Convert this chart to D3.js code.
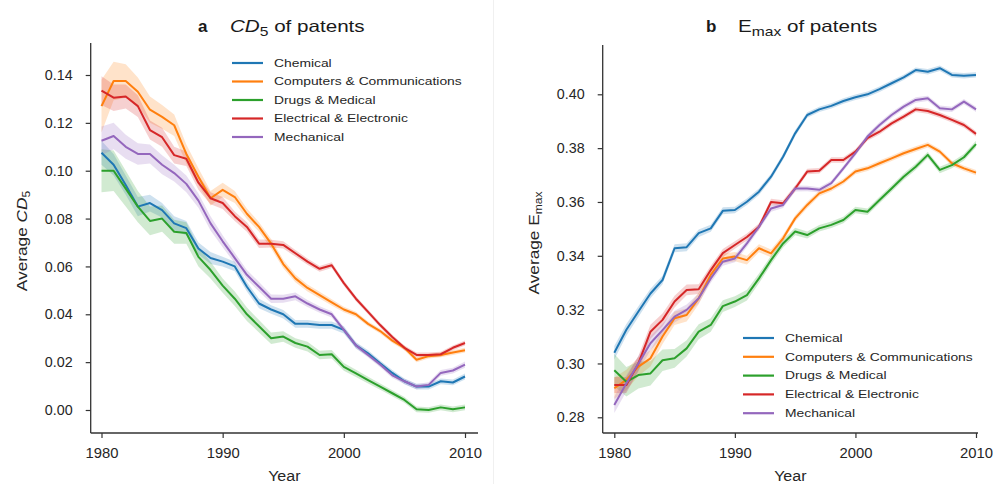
<!DOCTYPE html>
<html><head><meta charset="utf-8">
<script src="https://cdn.jsdelivr.net/npm/d3@7/dist/d3.min.js"></script>
<style>
body{margin:0;background:#fff;}
svg{font-family:"Liberation Sans",Arial,sans-serif;}
</style></head>
<body><svg id="c" width="993" height="484"></svg>
<script>
const years = d3.range(1980, 2011);
const categories = ["Chemical","Computers & Communications","Drugs & Medical","Electrical & Electronic","Mechanical"];
const colors = ["#1f77b4","#ff7f0e","#2ca02c","#d62728","#9467bd"];

// Panel a: CD5
const cdChemical = [0.1075,0.1025,0.094,0.085,0.0865,0.0835,0.078,0.076,0.0675,0.0635,0.062,0.060,0.0515,0.0445,0.042,0.040,0.036,0.036,0.0355,0.0355,0.0335,0.027,0.0237,0.0195,0.0155,0.012,0.0098,0.0098,0.012,0.0115,0.014];
const cdComputers = [0.127,0.1375,0.1375,0.133,0.1255,0.1225,0.119,0.107,0.0975,0.0885,0.092,0.089,0.082,0.0765,0.0695,0.061,0.055,0.051,0.048,0.045,0.042,0.040,0.036,0.033,0.029,0.026,0.021,0.0225,0.023,0.024,0.025];
const cdDrugs = [0.100,0.100,0.0925,0.085,0.079,0.080,0.0745,0.074,0.064,0.0585,0.052,0.0465,0.040,0.035,0.030,0.0307,0.028,0.0265,0.023,0.0233,0.018,0.0153,0.0125,0.0098,0.007,0.0042,0.0003,0.0,0.0011,0.0003,0.0011];
const cdElectrical = [0.1335,0.1305,0.131,0.127,0.117,0.114,0.1065,0.105,0.095,0.0885,0.0865,0.081,0.0765,0.0695,0.0695,0.069,0.0655,0.062,0.059,0.0605,0.053,0.0465,0.041,0.0355,0.0305,0.026,0.023,0.023,0.0233,0.026,0.028];
const cdMechanical = [0.1125,0.1145,0.110,0.107,0.107,0.1025,0.099,0.0945,0.0875,0.078,0.0705,0.0635,0.0565,0.0515,0.0465,0.0465,0.0475,0.0445,0.042,0.040,0.0335,0.027,0.023,0.019,0.0145,0.012,0.0098,0.0105,0.0155,0.0165,0.019];
// half-widths of the confidence bands, panel a
const cdChemicalCI = [0.005,0.0045,0.004,0.004,0.0035,0.003,0.003,0.003,0.0025,0.0025,0.002,0.002,0.002,0.002,0.0018,0.0018,0.0016,0.0016,0.0015,0.0015,0.0015,0.0013,0.0013,0.0012,0.0012,0.0012,0.0012,0.0012,0.0012,0.0012,0.0013];
const cdComputersCI = [0.011,0.008,0.007,0.006,0.0055,0.005,0.0045,0.004,0.0035,0.003,0.003,0.0025,0.0022,0.002,0.002,0.0018,0.0016,0.0015,0.0014,0.0013,0.0012,0.0011,0.001,0.001,0.001,0.001,0.001,0.001,0.001,0.001,0.001];
const cdDrugsCI = [0.009,0.0085,0.0075,0.0065,0.006,0.0055,0.005,0.0045,0.004,0.0035,0.003,0.003,0.0028,0.0026,0.0024,0.0022,0.002,0.002,0.0018,0.0018,0.0016,0.0015,0.0014,0.0013,0.0013,0.0012,0.0012,0.0012,0.0012,0.0012,0.0012];
const cdElectricalCI = [0.006,0.0055,0.005,0.0045,0.004,0.004,0.0035,0.003,0.003,0.0025,0.0025,0.002,0.002,0.0018,0.0016,0.0015,0.0014,0.0013,0.0012,0.0012,0.0011,0.001,0.001,0.001,0.001,0.001,0.001,0.001,0.001,0.001,0.001];
const cdMechanicalCI = [0.006,0.0055,0.005,0.0045,0.004,0.004,0.0035,0.0035,0.003,0.003,0.0025,0.0022,0.002,0.002,0.0018,0.0017,0.0016,0.0015,0.0014,0.0013,0.0012,0.0012,0.0011,0.0011,0.0011,0.0011,0.0011,0.0011,0.0012,0.0012,0.0013];

// Panel b: Emax
const emChemical = [0.304,0.3125,0.3193,0.326,0.331,0.3428,0.3432,0.3484,0.3502,0.3567,0.357,0.3601,0.3638,0.3694,0.3768,0.3855,0.3923,0.3944,0.3957,0.3975,0.3989,0.400,0.4019,0.4041,0.4063,0.409,0.4084,0.4097,0.4072,0.4069,0.4072];
const emComputers = [0.2908,0.2939,0.2988,0.3019,0.310,0.3168,0.318,0.3242,0.3329,0.339,0.3397,0.3384,0.3428,0.3409,0.3465,0.3539,0.3589,0.3632,0.365,0.3676,0.3713,0.3725,0.3744,0.3762,0.3781,0.3797,0.3812,0.3787,0.3744,0.3725,0.3709];
const emDrugs = [0.2975,0.2932,0.2957,0.2963,0.3012,0.3019,0.3056,0.3118,0.3143,0.3213,0.323,0.3254,0.3316,0.3384,0.3446,0.349,0.3477,0.3502,0.3515,0.3533,0.357,0.3564,0.3607,0.365,0.3694,0.3731,0.3775,0.3719,0.3737,0.3766,0.3815];
const emElectrical = [0.292,0.292,0.300,0.3118,0.3162,0.323,0.3273,0.3276,0.3347,0.341,0.344,0.347,0.3508,0.360,0.3595,0.365,0.3713,0.3716,0.3756,0.3756,0.3787,0.3837,0.3861,0.3892,0.3917,0.3944,0.3938,0.3923,0.3905,0.3886,0.3853];
const emMechanical = [0.2846,0.2926,0.300,0.3075,0.3124,0.3174,0.3199,0.3242,0.3316,0.3378,0.339,0.3446,0.3508,0.3576,0.3589,0.365,0.365,0.3645,0.367,0.3725,0.3781,0.3843,0.3886,0.3923,0.3954,0.3979,0.3985,0.3948,0.3944,0.3973,0.3944];
// half-widths of the confidence bands, panel b
const emChemicalCI = [0.0025,0.0022,0.002,0.0018,0.0016,0.0015,0.0015,0.0014,0.0013,0.0013,0.0012,0.0012,0.0012,0.0011,0.0011,0.0011,0.001,0.001,0.001,0.001,0.001,0.001,0.001,0.001,0.001,0.001,0.001,0.001,0.001,0.001,0.001];
const emComputersCI = [0.004,0.0038,0.0035,0.003,0.0028,0.0025,0.0024,0.0022,0.002,0.0018,0.0017,0.0016,0.0015,0.0014,0.0013,0.0012,0.0012,0.0011,0.001,0.001,0.001,0.001,0.001,0.001,0.001,0.001,0.001,0.001,0.001,0.001,0.001];
const emDrugsCI = [0.006,0.0055,0.005,0.0045,0.004,0.0035,0.003,0.0028,0.0025,0.0022,0.002,0.002,0.0018,0.0016,0.0015,0.0014,0.0013,0.0012,0.0012,0.0012,0.0012,0.0012,0.0012,0.0012,0.0012,0.0012,0.0012,0.0012,0.0012,0.0012,0.0012];
const emElectricalCI = [0.003,0.003,0.0028,0.0026,0.0024,0.0022,0.002,0.0018,0.0016,0.0015,0.0014,0.0013,0.0012,0.0012,0.0011,0.0011,0.001,0.001,0.001,0.001,0.001,0.001,0.001,0.001,0.001,0.001,0.001,0.001,0.001,0.001,0.001];
const emMechanicalCI = [0.003,0.003,0.0028,0.0026,0.0024,0.0022,0.002,0.0018,0.0016,0.0015,0.0014,0.0013,0.0012,0.0012,0.0011,0.0011,0.001,0.001,0.001,0.001,0.001,0.001,0.001,0.001,0.001,0.001,0.001,0.001,0.001,0.001,0.001];

const xTicks = [1980, 1990, 2000, 2010];
const cdTicks = [0.00, 0.02, 0.04, 0.06, 0.08, 0.10, 0.12, 0.14];
const emTicks = [0.28, 0.30, 0.32, 0.34, 0.36, 0.38, 0.40];

const svg = d3.select("#c");
svg.append("rect").attr("width",993).attr("height",484).attr("fill","#fff");
// faint divider between panels
svg.append("line").attr("x1",493.5).attr("x2",493.5).attr("y1",0).attr("y2",484)
  .attr("stroke","#f0f0f0").attr("stroke-width",1);

// horizontally widen text about its anchor x
function stretch(sel, sx){
  sel.each(function(){
    const ax = +(this.getAttribute("x") || 0);
    this.setAttribute("transform", `translate(${ax},0) scale(${sx},1) translate(${-ax},0)`);
  });
}

function panel(cfg){
  const g = svg.append("g");
  const x = d3.scaleLinear().domain([1980,2010]).range(cfg.xr);
  const y = d3.scaleLinear().domain(cfg.yd).range(cfg.yr);
  const axisColor = "#333";
  cfg.series.forEach((s,i)=>{
    const area = d3.area().x((d,j)=>x(years[j]))
      .y0((d,j)=>y(d - s.ci[j])).y1((d,j)=>y(d + s.ci[j]));
    g.append("path").attr("d", area(s.v)).attr("fill", colors[i]).attr("fill-opacity",0.22).attr("stroke","none");
  });
  cfg.series.forEach((s,i)=>{
    const line = d3.line().x((d,j)=>x(years[j])).y(d=>y(d));
    g.append("path").attr("d", line(s.v)).attr("fill","none").attr("stroke", colors[i])
      .attr("stroke-width",2).attr("stroke-linejoin","round");
  });
  // axes
  const xa = g.append("g").attr("transform",`translate(0,${cfg.bottom})`)
    .call(d3.axisBottom(x).tickValues(xTicks).tickFormat(d3.format("d")).tickSize(5).tickPadding(9));
  xa.select(".domain").remove();
  xa.append("line").attr("x1",cfg.left).attr("x2",cfg.right).attr("y1",0).attr("y2",0)
    .attr("stroke",axisColor).attr("stroke-width",1.3);
  const ya = g.append("g").attr("transform",`translate(${cfg.left},0)`)
    .call(d3.axisLeft(y).tickValues(cfg.yTicks).tickFormat(d3.format(".2f")).tickSize(5).tickPadding(13));
  ya.select(".domain").remove();
  ya.append("line").attr("x1",0).attr("x2",0).attr("y1",cfg.top).attr("y2",cfg.bottom)
    .attr("stroke",axisColor).attr("stroke-width",1.3);
  [xa,ya].forEach(a=>{
    a.selectAll(".tick line").attr("stroke",axisColor).attr("stroke-width",1.2);
    a.selectAll(".tick text").attr("fill","#262626")
      .style("font-family","'Liberation Sans',Arial,sans-serif");
  });
  xa.selectAll(".tick text").style("font-size","14.8px");
  ya.selectAll(".tick text").style("font-size","14.3px");
  // axis labels
  const xl = g.append("text").attr("x",(cfg.left+cfg.right)/2).attr("y",481).attr("text-anchor","middle")
    .attr("fill","#262626").style("font-size","15px").text("Year");
  stretch(xl, 1.07);
  const ylg = g.append("g").attr("transform",`translate(${cfg.ylx},${cfg.yly}) rotate(-90)`);
  const yl = ylg.append("text").attr("x",0).attr("y",0)
    .attr("text-anchor","middle").attr("fill","#262626").style("font-size","15px");
  yl.append("tspan").text("Average ");
  cfg.ylabel(yl);
  stretch(yl, 1.15);
  // title
  g.append("text").attr("x",cfg.letterX).attr("y",32).attr("fill","#1a1a1a")
    .style("font-size","17px").attr("font-weight","bold").text(cfg.letter);
  const t = g.append("text").attr("x",cfg.titleX).attr("y",32)
    .attr("fill","#1a1a1a").style("font-size","16.5px");
  cfg.title(t);
  stretch(t, 1.25);
  // legend
  const lg = g.append("g");
  categories.forEach((c,i)=>{
    const yy = cfg.legY + i*cfg.legStep;
    lg.append("line").attr("x1",cfg.legX).attr("x2",cfg.legX+31).attr("y1",yy).attr("y2",yy)
      .attr("stroke",colors[i]).attr("stroke-width",2.2);
    const lt = lg.append("text").attr("x",cfg.legX+42).attr("y",yy+3.8).attr("fill","#262626")
      .style("font-size","10.5px").text(c);
    stretch(lt, 1.32);
  });
}

panel({
  xr:[101.5,465], yd:[0,0.14], yr:[410,75], left:90.7, right:478, top:43, bottom:433,
  yTicks: cdTicks, ylx:27, yly:241, letter:"a", letterX:198, titleX:230,
  series:[{v:cdChemical,ci:cdChemicalCI},{v:cdComputers,ci:cdComputersCI},{v:cdDrugs,ci:cdDrugsCI},{v:cdElectrical,ci:cdElectricalCI},{v:cdMechanical,ci:cdMechanicalCI}],
  ylabel: (el)=>{ el.append("tspan").attr("font-style","italic").text("CD");
                  el.append("tspan").attr("dy",3).style("font-size","10.5px").text("5"); },
  title: (el)=>{ el.append("tspan").attr("font-style","italic").text("CD");
                 el.append("tspan").attr("dy",4).style("font-size","12.5px").text("5");
                 el.append("tspan").attr("dy",-4).text(" of patents"); },
  legX:232, legY:63, legStep:18.5
});

panel({
  xr:[614.3,976], yd:[0.28,0.40], yr:[417.3,94.3], left:602.7, right:978, top:45, bottom:433,
  yTicks: emTicks, ylx:539, yly:243, letter:"b", letterX:706, titleX:738,
  series:[{v:emChemical,ci:emChemicalCI},{v:emComputers,ci:emComputersCI},{v:emDrugs,ci:emDrugsCI},{v:emElectrical,ci:emElectricalCI},{v:emMechanical,ci:emMechanicalCI}],
  ylabel: (el)=>{ el.append("tspan").text("E");
                  el.append("tspan").attr("dy",3).style("font-size","10.5px").text("max"); },
  title: (el)=>{ el.append("tspan").text("E");
                 el.append("tspan").attr("dy",4).style("font-size","12.5px").text("max");
                 el.append("tspan").attr("dy",-4).text(" of patents"); },
  legX:743, legY:338, legStep:18.8
});
</script>
</body></html>
